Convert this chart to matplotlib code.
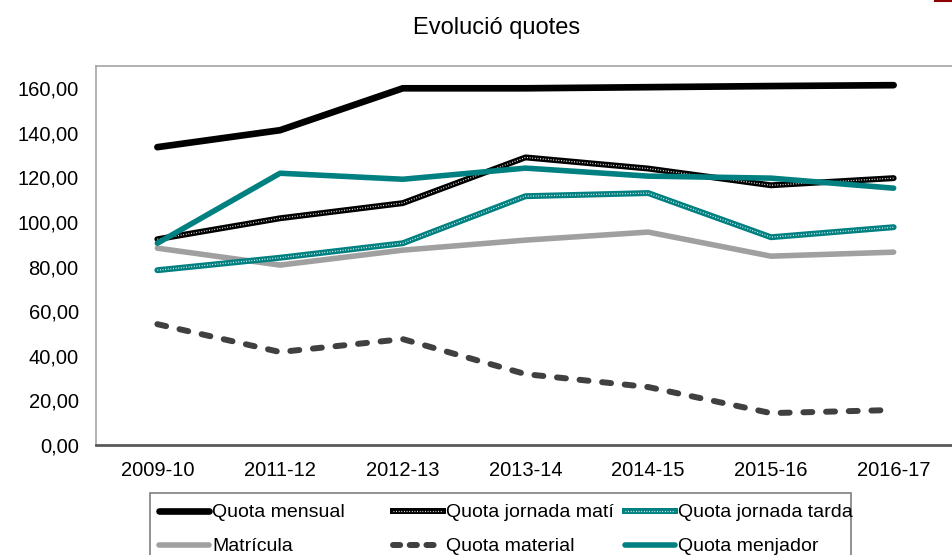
import matplotlib
matplotlib.use("Agg")
import matplotlib.pyplot as plt
from matplotlib.lines import Line2D
from matplotlib.patches import Rectangle
from matplotlib.legend_handler import HandlerTuple
from matplotlib.ticker import FuncFormatter

plt.rcParams["font.family"] = ["Liberation Sans", "DejaVu Sans"]

# dades
cursos = ["2009-10", "2011-12", "2012-13", "2013-14", "2014-15", "2015-16", "2016-17"]
quota_mensual = [133.6, 141.2, 160.0, 160.0, 160.5, 161.0, 161.4]
quota_mati = [92.3, 101.7, 108.5, 129.0, 124.0, 116.5, 119.7]
quota_tarda = [78.4, 84.0, 90.5, 111.6, 113.0, 93.2, 97.7]
matricula = [88.3, 80.7, 87.4, 91.9, 95.5, 84.7, 86.5]
quota_material = [54.2, 41.7, 47.5, 31.8, 26.0, 14.3, 15.7]
quota_menjador = [90.5, 121.9, 119.2, 124.2, 120.6, 119.7, 115.2]

TEAL = "#008080"
W, H = 952, 555

fig = plt.figure(figsize=(W / 100, H / 100), dpi=100)
ax = fig.add_axes([96 / W, 1 - 445 / H, (955 - 96) / W, (445 - 66) / H])

x = list(range(len(cursos)))
DOTS = (0, (0.7, 1.4))

ax.plot(x, quota_mensual, color="black", lw=4.8, solid_capstyle="round", zorder=3)
# línies amb trama: base gruixuda + punts blancs
ax.plot(x, quota_mati, color="black", lw=4.3, solid_capstyle="round", zorder=4)
ax.plot(x, quota_mati, color="white", lw=0.9, ls=DOTS, zorder=5)
ax.plot(x, quota_tarda, color=TEAL, lw=4.3, solid_capstyle="round", zorder=4)
ax.plot(x, quota_tarda, color="white", lw=0.9, ls=DOTS, zorder=5)
ax.plot(x, matricula, color="#A0A0A0", lw=4.0, solid_capstyle="round", zorder=3)
ax.plot(x, quota_material, color="#404040", lw=4.3, dashes=(1.5, 2.3),
        dash_capstyle="round", zorder=3)
ax.plot(x, quota_menjador, color=TEAL, lw=4.0, solid_capstyle="round", zorder=6)

ax.set_xlim(-0.5, len(cursos) - 0.5)
ax.set_ylim(0, 170)
ax.set_yticks(range(0, 161, 20))
ax.yaxis.set_major_formatter(FuncFormatter(lambda v, p: f"{v:.2f}".replace(".", ",")))
ax.set_xticks(x)
ax.set_xticklabels(cursos)
ax.tick_params(axis="both", length=0, labelsize=14.5, colors="black")
ax.tick_params(axis="y", pad=12.5)
ax.tick_params(axis="x", pad=11.5)

for s in ["left", "top", "right"]:
    ax.spines[s].set_color("#A6A6A6")
    ax.spines[s].set_linewidth(1.2)
ax.spines["bottom"].set_color("#595959")
ax.spines["bottom"].set_linewidth(2.0)

fig.text(497 / W, 1 - 28 / H, "Evolució quotes", ha="center", va="center", fontsize=17)

# llegenda: tres columnes d'amplada fixa dins d'un marc
def h_solid(c, lw):
    return Line2D([], [], color=c, lw=lw, solid_capstyle="round")

def h_dots(c):
    return (Line2D([], [], color=c, lw=4.3),
            Line2D([], [], color="white", lw=0.9, ls=DOTS))

columns = [
    ([h_solid("black", 4.8), h_solid("#A0A0A0", 4.0)], ["Quota mensual", "Matrícula"]),
    ([h_dots("black"), Line2D([], [], color="#404040", lw=4.3, dashes=(1.2, 1.6),
                              dash_capstyle="round")],
     ["Quota jornada matí", "Quota material"]),
    ([h_dots(TEAL), h_solid(TEAL, 4.0)], ["Quota jornada tarda", "Quota menjador"]),
]
col_x = [148, 382, 614]
for (hs, ls), cx in zip(columns, col_x):
    fig.legend(hs, ls, ncol=1, loc="upper left",
               bbox_to_anchor=(cx / W, 1 - 493 / H), fontsize=14,
               frameon=False, handlelength=2.6, handletextpad=0.15,
               labelspacing=0.85, borderpad=0.55, borderaxespad=0,
               handler_map={tuple: HandlerTuple(ndivide=1)})

fig.add_artist(Rectangle((150 / W, -0.05), (851 - 150) / W, 0.05 + 1 - 493 / H,
                         transform=fig.transFigure, fill=False,
                         edgecolor="#7F7F7F", lw=1.2))

# petita marca vermella a la cantonada superior dreta
fig.add_artist(Line2D([935 / W, 1.0], [1 - 1 / H, 1 - 1 / H], color="#8B0000", lw=1.5))

fig.savefig("out.png", dpi=100, facecolor="white")
